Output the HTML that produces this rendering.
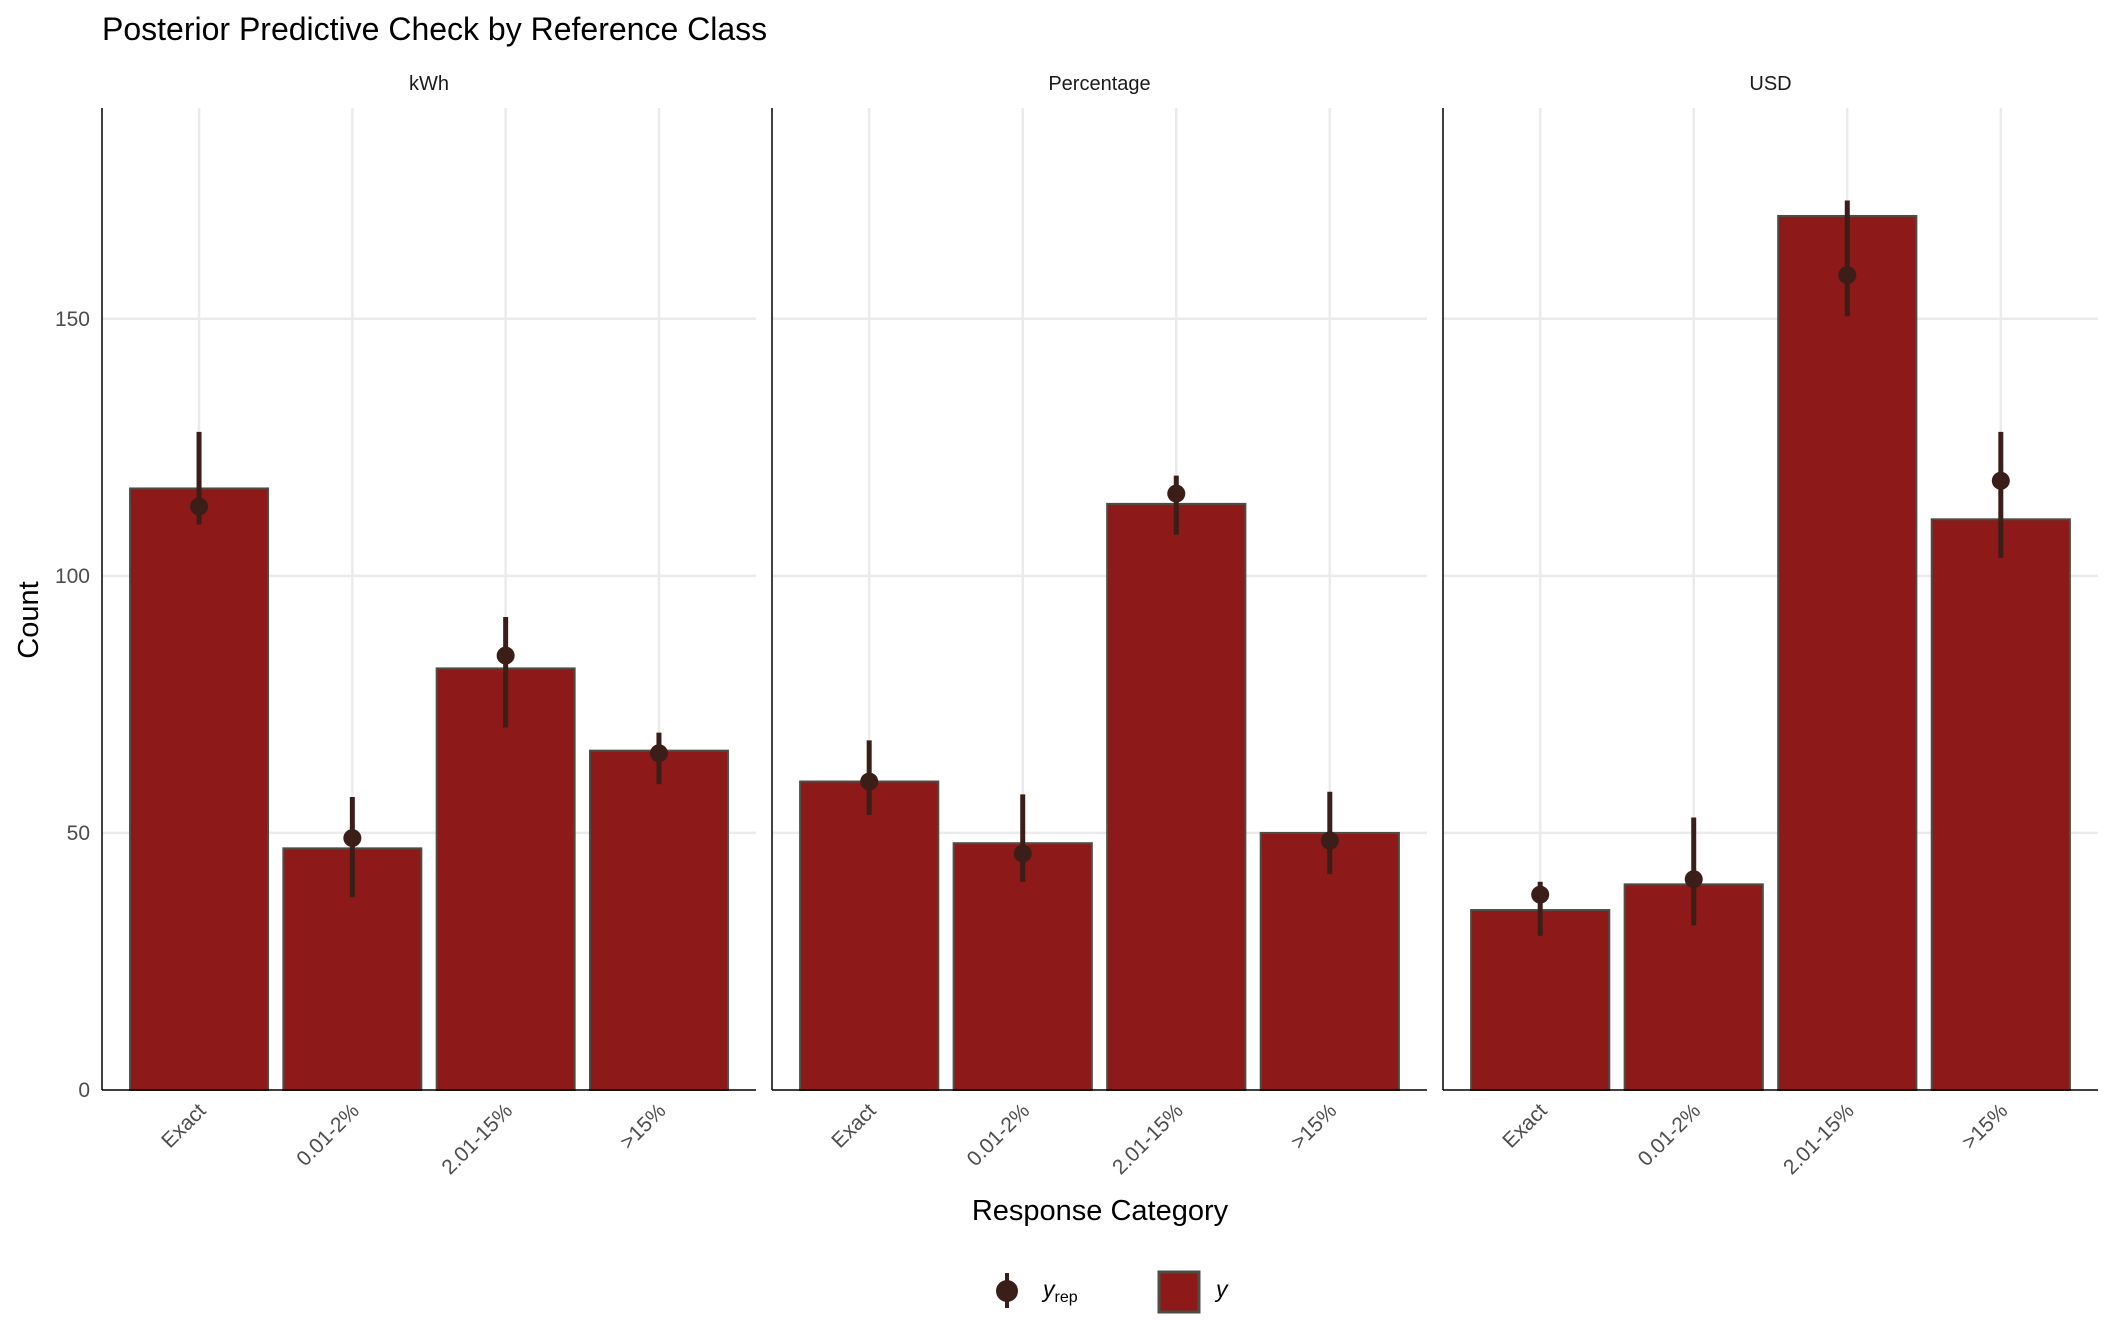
<!DOCTYPE html>
<html><head><meta charset="utf-8"><style>
html,body{margin:0;padding:0;background:#fff}
svg{display:block;font-family:"Liberation Sans",Arial,sans-serif}
</style></head><body>
<svg id="chart" width="2112" height="1344" viewBox="0 0 2112 1344">
<text x="102" y="40" font-size="32" fill="#000">Posterior Predictive Check by Reference Class</text>
<text transform="translate(38,620) rotate(-90)" text-anchor="middle" font-size="29" fill="#000">Count</text>
<text x="1100" y="1220" text-anchor="middle" font-size="29" fill="#000">Response Category</text>
<g id="panels"></g>
<g>
  <line x1="1007" y1="1273" x2="1007" y2="1308" stroke="#3b1e18" stroke-width="4"/>
  <circle cx="1007" cy="1291" r="11" fill="#3b1e18"/>
  <text x="1043" y="1297" font-size="23" font-style="italic" fill="#000">y<tspan font-size="16" font-style="normal" dy="5">rep</tspan></text>
  <rect x="1159" y="1272" width="40" height="40" fill="#8d1919" stroke="#4d4d45" stroke-width="3"/>
  <text x="1216" y="1297" font-size="23" font-style="italic" fill="#000">y</text>
</g>
</svg>
<script>
const panelNames = ["kWh", "Percentage", "USD"];
const categories = ["Exact", "0.01-2%", "2.01-15%", ">15%"];
const yObs = [[117, 47, 82, 66], [60, 48, 114, 50], [35, 40, 170, 111]];
const yRepMid = [[113.5, 49, 84.5, 65.5], [60, 46, 116, 48.5], [38, 41, 158.5, 118.5]];
const yRepLow = [[110, 37.5, 70.5, 59.5], [53.5, 40.5, 108, 42], [30, 32, 150.5, 103.5]];
const yRepHigh = [[128, 57, 92, 69.5], [68, 57.5, 119.5, 58], [40.5, 53, 173, 128]];
const yTicks = [0, 50, 100, 150];

const NS = "http://www.w3.org/2000/svg";
const panelsG = document.getElementById("panels");
const panelX = [[102, 756], [772, 1427], [1443, 2098]];
const plotTop = 108, zeroY = 1090, yMax = 191;
function yScale(v){ return zeroY - v * (zeroY - plotTop) / yMax; }
function mk(tag, attrs, parent){ const e = document.createElementNS(NS, tag); for (const k in attrs) e.setAttribute(k, attrs[k]); parent.appendChild(e); return e; }

panelNames.forEach((pn, p) => {
  const x0 = panelX[p][0], x1 = panelX[p][1];
  const step = (x1 - x0) / (categories.length - 1 + 1.266);
  const xScale = i => x0 + step * (0.633 + i);
  const pg = mk("g", {}, panelsG);
  
  
  yTicks.forEach(t => {
    if (t === 0) return;
    const gl = mk("line", {x1: x0, x2: x1, y1: yScale(t), y2: yScale(t), stroke: "#ebebeb", "stroke-width": 2.5}, pg);
    
    
  });
  categories.forEach((c, i) => {
    const gl = mk("line", {x1: xScale(i), x2: xScale(i), y1: plotTop, y2: zeroY, stroke: "#ebebeb", "stroke-width": 2.5}, pg);
    
    
  });
  const st = mk("text", {x: (x0 + x1) / 2, y: 90, "text-anchor": "middle", "font-size": 20, fill: "#1a1a1a"}, pg);
  st.textContent = pn;
  
  
  categories.forEach((c, i) => {
    const bw = step * 0.9;
    const b = mk("rect", {x: xScale(i) - bw / 2, y: yScale(yObs[p][i]), width: bw, height: zeroY - yScale(yObs[p][i]), fill: "#8d1919", stroke: "#4d4d45", "stroke-width": 2}, pg);
    
    
  });
  categories.forEach((c, i) => {
    const l = mk("line", {x1: xScale(i), x2: xScale(i), y1: yScale(yRepLow[p][i]), y2: yScale(yRepHigh[p][i]), stroke: "#3b1e18", "stroke-width": 5}, pg);
    
    
    const pt = mk("circle", {cx: xScale(i), cy: yScale(yRepMid[p][i]), r: 9, fill: "#3b1e18"}, pg);
    
    
    const tx = xScale(i) + 8, ty = zeroY + 22;
    const lab = mk("text", {x: tx, y: ty, "text-anchor": "end", "font-size": 21, fill: "#4d4d4d", transform: "rotate(-45 " + tx + " " + ty + ")"}, pg);
    lab.textContent = c;
    
    
  });
  const ax = mk("line", {x1: x0, x2: x0, y1: plotTop, y2: zeroY, stroke: "#000", "stroke-width": 1.5}, pg);
  
  
  const bx = mk("line", {x1: x0, x2: x1, y1: zeroY, y2: zeroY, stroke: "#000", "stroke-width": 1.5}, pg);
  
  
  if (p === 0) {
    yTicks.forEach(t => {
      const tl = mk("text", {x: x0 - 12, y: yScale(t) + 7, "text-anchor": "end", "font-size": 21, fill: "#4d4d4d"}, pg);
      tl.textContent = t;
      
      
    });
  }
});
</script>
</body></html>
